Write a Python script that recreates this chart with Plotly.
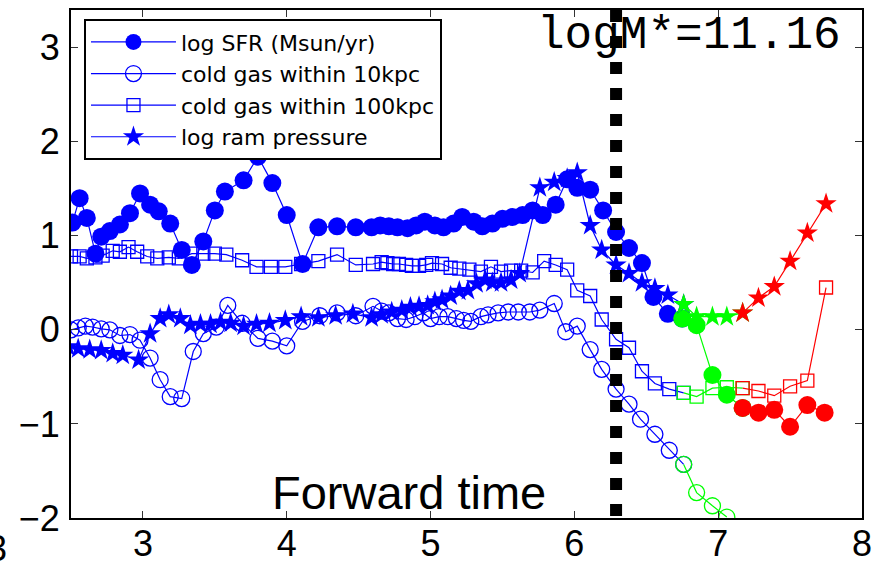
import plotly.graph_objects as go

# ---------------- data ----------------
# log SFR (Msun/yr): filled circles
sfr_t = [2.51, 2.56, 2.61, 2.67, 2.71, 2.77, 2.84, 2.91, 2.98, 3.05, 3.11, 3.19, 3.27, 3.34,
         3.42, 3.50, 3.57, 3.70, 3.80, 3.90, 4.00, 4.11, 4.22, 4.35, 4.48, 4.59, 4.65, 4.71,
         4.77, 4.84, 4.90, 4.96, 5.03, 5.09, 5.16, 5.22, 5.30, 5.36, 5.43, 5.50, 5.57, 5.64,
         5.71, 5.78, 5.87, 5.95, 6.02, 6.11, 6.20, 6.29, 6.38, 6.47, 6.55, 6.65,
         6.75, 6.85, 6.96, 7.06,
         7.17, 7.28, 7.39, 7.50, 7.62, 7.74]
sfr_v = [1.14, 1.40, 1.19, 0.81, 0.99, 1.05, 1.12, 1.24, 1.45, 1.33, 1.26, 1.13, 0.85, 0.69,
         0.94, 1.27, 1.47, 1.59, 1.84, 1.56, 1.22, 0.70, 1.09, 1.10, 1.09, 1.09, 1.11, 1.10,
         1.09, 1.08, 1.11, 1.15, 1.11, 1.09, 1.13, 1.20, 1.15, 1.10, 1.13, 1.18, 1.20, 1.22,
         1.27, 1.22, 1.33, 1.60, 1.51, 1.49, 1.27, 1.04, 0.87, 0.71, 0.35, 0.17,
         0.12, 0.05, -0.48, -0.69,
         -0.83, -0.88, -0.85, -1.03, -0.80, -0.88]
sfr_nblue, sfr_ngreen = 54, 4

# cold gas within 10kpc: open circles
g10_t = [2.50, 2.55, 2.60, 2.65, 2.71, 2.77, 2.84, 2.91, 2.98, 3.05, 3.12, 3.19, 3.27, 3.35,
         3.42, 3.51, 3.59, 3.69, 3.80, 3.90, 4.00, 4.11, 4.23, 4.35, 4.48, 4.60, 4.66, 4.71,
         4.77, 4.83, 4.89, 4.95, 5.00, 5.06, 5.12, 5.18, 5.23, 5.28, 5.35, 5.40, 5.47, 5.54,
         5.61, 5.69, 5.76, 5.86, 5.94, 6.02, 6.11, 6.19, 6.29, 6.38, 6.46, 6.56, 6.66,
         6.76, 6.85, 6.96, 7.06]
g10_v = [0.00, 0.02, 0.04, 0.03, 0.01, 0.00, -0.06, -0.05, -0.11, -0.30, -0.53, -0.71, -0.73, -0.23,
         -0.04, 0.03, 0.26, 0.07, -0.09, -0.12, -0.17, 0.09, 0.15, 0.18, 0.15, 0.25, 0.20, 0.18,
         0.12, 0.11, 0.14, 0.18, 0.12, 0.14, 0.14, 0.12, 0.10, 0.09, 0.14, 0.16, 0.18, 0.19,
         0.19, 0.19, 0.21, 0.28, -0.02, 0.04, -0.21, -0.42, -0.63, -0.79, -0.95, -1.11, -1.28,
         -1.43, -1.73, -1.87, -1.99]
g10_nblue, g10_ngreen = 55, 4

# cold gas within 100kpc: open squares
g100_t = [2.50, 2.56, 2.61, 2.67, 2.72, 2.79, 2.84, 2.90, 2.96, 3.03, 3.10, 3.18, 3.25, 3.34,
          3.42, 3.50, 3.58, 3.69, 3.79, 3.89, 3.99, 4.10, 4.22, 4.35, 4.48, 4.60, 4.66, 4.70,
          4.74, 4.78, 4.83, 4.87, 4.92, 4.97, 5.01, 5.08, 5.14, 5.20, 5.27, 5.35, 5.42, 5.49,
          5.56, 5.63, 5.71, 5.79, 5.87, 5.95, 6.02, 6.11, 6.19, 6.29, 6.38, 6.47, 6.56, 6.66,
          6.76, 6.85, 6.96, 7.06,
          7.17, 7.28, 7.39, 7.50, 7.62, 7.75]
g100_v = [0.78, 0.78, 0.76, 0.77, 0.79, 0.84, 0.83, 0.88, 0.83, 0.78, 0.76, 0.77, 0.76, 0.81,
          0.81, 0.81, 0.80, 0.74, 0.67, 0.67, 0.67, 0.70, 0.73, 0.80, 0.69, 0.70, 0.72, 0.71,
          0.70, 0.70, 0.69, 0.68, 0.68, 0.69, 0.71, 0.70, 0.66, 0.65, 0.64, 0.62, 0.67, 0.62,
          0.63, 0.63, 0.61, 0.73, 0.69, 0.64, 0.42, 0.36, 0.11, -0.10, -0.19, -0.44, -0.57, -0.63,
          -0.67, -0.71, -0.62, -0.61,
          -0.62, -0.65, -0.70, -0.60, -0.54, 0.45]
g100_nblue, g100_ngreen = 56, 4

# log ram pressure: stars
ram_t = [2.48, 2.55, 2.63, 2.71, 2.79, 2.86, 2.97, 3.05, 3.12, 3.18, 3.26, 3.33, 3.40, 3.47,
         3.54, 3.61, 3.70, 3.79, 3.88, 3.99, 4.10, 4.22, 4.34, 4.46, 4.59, 4.66, 4.73, 4.80,
         4.86, 4.92, 4.98, 5.03, 5.08, 5.14, 5.20, 5.26, 5.32, 5.38, 5.43, 5.49, 5.56, 5.62,
         5.76, 5.86, 5.95, 6.02, 6.11, 6.19, 6.29, 6.38, 6.47, 6.56, 6.65,
         6.76, 6.85, 6.96, 7.06,
         7.17, 7.28, 7.39, 7.50, 7.62, 7.75]
ram_v = [-0.18, -0.20, -0.21, -0.22, -0.25, -0.27, -0.32, -0.04, 0.12, 0.16, 0.12, 0.05, 0.06, 0.06,
         0.08, 0.07, 0.04, 0.06, 0.07, 0.10, 0.14, 0.13, 0.15, 0.17, 0.13, 0.16, 0.19, 0.21,
         0.24, 0.25, 0.26, 0.30, 0.32, 0.36, 0.41, 0.42, 0.49, 0.53, 0.50, 0.50, 0.53, 0.60,
         1.51, 1.57, 1.61, 1.67, 1.11, 0.85, 0.69, 0.60, 0.50, 0.44, 0.37,
         0.27, 0.14, 0.14, 0.14,
         0.18, 0.34, 0.46, 0.73, 1.03, 1.34]
ram_nblue, ram_ngreen = 53, 4

merger_time = 6.29
x_ticks = [3, 4, 5, 6, 7, 8]
y_ticks = [-2, -1, 0, 1, 2, 3]
label_mass = "logM*=11.16"
label_time = "Forward time"

BLUE, GREEN, RED = "#0000ff", "#00ff00", "#ff0000"

fig = go.Figure()


def add_series(name, t, v, nblue, ngreen, symbol, size, filled):
    segs = [(BLUE, 0, nblue), (GREEN, nblue, nblue + ngreen), (RED, nblue + ngreen, len(t))]
    for k, (col, a, b) in enumerate(segs):
        if a >= b:
            continue
        end = min(b + 1, len(t))  # line continues to the next segment's first point
        fig.add_trace(go.Scatter(
            x=t[a:end], y=v[a:end], mode="lines+markers",
            name=name, showlegend=(k == 0),
            line=dict(color=col, width=1.2),
            marker=dict(symbol=symbol, size=size, color=col,
                        line=dict(color=col, width=0 if filled else 1.3)),
        ))


add_series("log SFR (Msun/yr)", sfr_t, sfr_v, sfr_nblue, sfr_ngreen, "circle", 18, True)
add_series("cold gas within 10kpc", g10_t, g10_v, g10_nblue, g10_ngreen, "circle-open", 16, False)
add_series("cold gas within 100kpc", g100_t, g100_v, g100_nblue, g100_ngreen, "square-open", 13, False)
add_series("log ram pressure", ram_t, ram_v, ram_nblue, ram_ngreen, "star", 16, True)

fig.add_shape(type="line", xref="x", yref="y", x0=merger_time, x1=merger_time,
              y0=3.4, y1=-2, layer="above",
              line=dict(color="black", width=12, dash="12px,14px"))

fig.add_annotation(text=label_mass, xref="paper", yref="paper", x=0.586, y=0.949,
                   xanchor="left", yanchor="middle", showarrow=False,
                   font=dict(family="Liberation Mono", size=46, color="black"))
fig.add_annotation(text=label_time, xref="paper", yref="paper", x=0.251, y=0.05,
                   xanchor="left", yanchor="middle", showarrow=False,
                   font=dict(family="Liberation Sans", size=47, color="black"))
fig.add_annotation(text="3", xref="paper", yref="paper", x=-0.093, y=-0.015,
                   xanchor="center", yanchor="top", showarrow=False,
                   font=dict(family="Liberation Sans", size=36, color="black"))

axis_common = dict(ticks="inside", ticklen=7, tickwidth=1, tickcolor="#333",
                   showline=True, linecolor="black", linewidth=2, mirror="ticks",
                   showgrid=False, zeroline=False, automargin=False,
                   tickfont=dict(family="Liberation Sans", size=36, color="black"))

fig.update_layout(
    width=877, height=566,
    margin=dict(l=71, r=15, t=10, b=48, autoexpand=False),
    paper_bgcolor="white", plot_bgcolor="white",
    xaxis=dict(range=[2.5, 8], tickvals=x_ticks, ticklabelstandoff=-7, **axis_common),
    yaxis=dict(range=[-2, 3.4], tickvals=y_ticks, ticklabelstandoff=2, **axis_common),
    legend=dict(x=0.0164, y=0.982, xanchor="left", yanchor="top",
                bgcolor="white", bordercolor="black", borderwidth=2,
                font=dict(family="DejaVu Sans", size=22, color="black"),
                itemwidth=85, tracegroupgap=0,
                entrywidth=330, entrywidthmode="pixels"),
    showlegend=True,
)

fig.write_html("out.html")
